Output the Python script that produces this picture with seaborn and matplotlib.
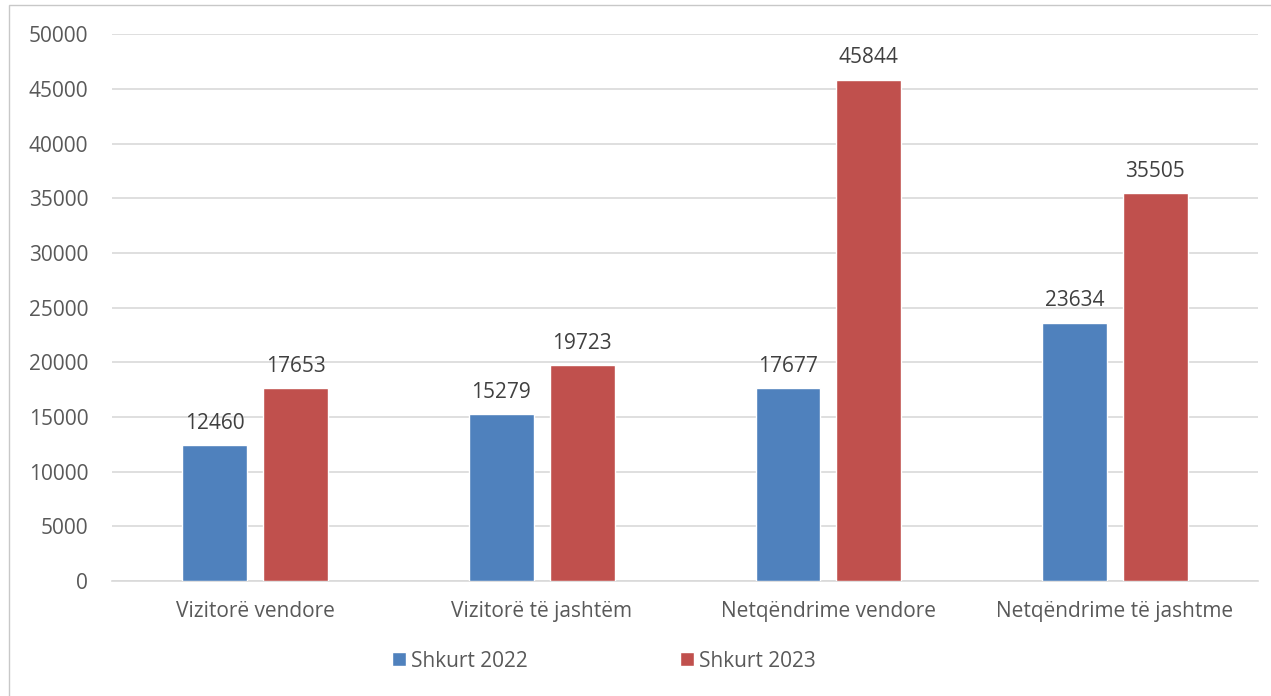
import pandas as pd
import matplotlib.pyplot as plt
from matplotlib.patches import Rectangle
import seaborn as sns

# Data
categories = ["Vizitorë vendore", "Vizitorë të jashtëm", "Netqëndrime vendore", "Netqëndrime të jashtme"]
series_names = ["Shkurt 2022", "Shkurt 2023"]
values_2022 = [12460, 15279, 17677, 23634]
values_2023 = [17653, 19723, 45844, 35505]
y_ticks = [0, 5000, 10000, 15000, 20000, 25000, 30000, 35000, 40000, 45000, 50000]

df = pd.DataFrame({
    "category": categories * 2,
    "series": [series_names[0]] * 4 + [series_names[1]] * 4,
    "value": values_2022 + values_2023,
})

sns.set_theme(style="white")
plt.rcParams["font.family"] = ["Open Sans", "DejaVu Sans"]
text_color = "#595959"
fs = 15

fig = plt.figure(figsize=(12.71, 6.96), dpi=100)
ax = fig.add_axes([0.088, 0.165, 0.902, 0.786])

sns.barplot(data=df, x="category", y="value", hue="series",
            palette=["#4F81BD", "#C0504D"], width=0.564, gap=0.2,
            saturation=1, ax=ax, zorder=3)

for container in ax.containers:
    ax.bar_label(container, fmt="%d", padding=8, fontsize=fs, color="#404040")

ax.set_ylim(0, 50000)
ax.set_xlim(-0.5, 3.5)
ax.set_yticks(y_ticks)
ax.set_yticklabels([str(t) for t in y_ticks])
ax.yaxis.grid(True, color="#d9d9d9", linewidth=1.2, zorder=0)
ax.set_axisbelow(True)
for s in ["top", "right", "left"]:
    ax.spines[s].set_visible(False)
ax.spines["bottom"].set_color("#d9d9d9")
ax.spines["bottom"].set_linewidth(1.2)
ax.tick_params(axis="y", length=0, pad=17, labelsize=fs, labelcolor=text_color)
ax.tick_params(axis="x", length=0, pad=14, labelsize=fs, labelcolor=text_color)
ax.set_xlabel("")
ax.set_ylabel("")

ax.legend(loc="center", bbox_to_anchor=(0.475, 0.05), bbox_transform=fig.transFigure,
          ncol=2, frameon=False, fontsize=fs, labelcolor=text_color,
          handlelength=0.67, handleheight=0.67, handletextpad=0.25, columnspacing=7.3)

fig.patches.append(Rectangle((9 / 1271, -0.1), 1.2, 1.1 - 5 / 696, transform=fig.transFigure,
                             fill=False, edgecolor="#c8c8c8", linewidth=1, figure=fig))

fig.savefig("out.png", dpi=100)
